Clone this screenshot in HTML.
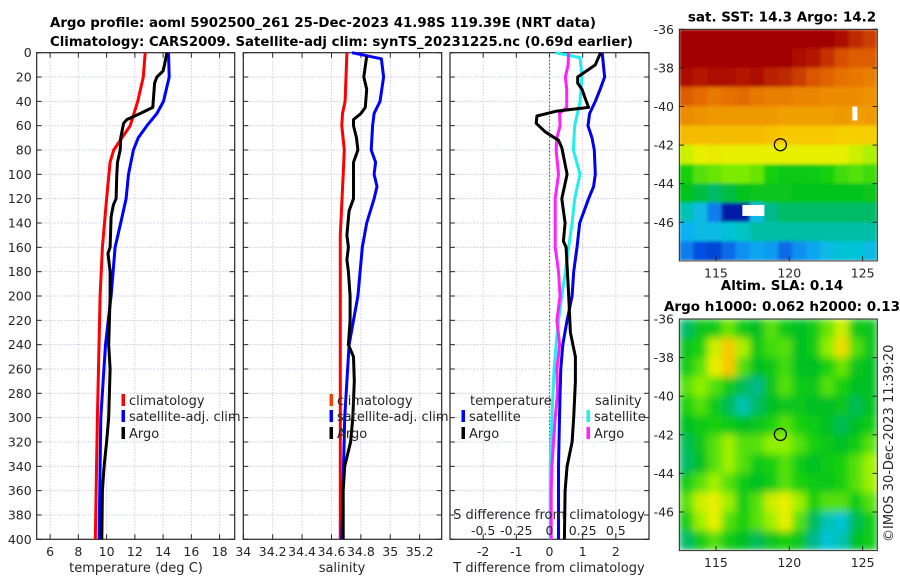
<!DOCTYPE html>
<html><head><meta charset="utf-8">
<style>
html,body{margin:0;padding:0;background:#fff;}
svg{display:block;font-family:"DejaVu Sans","Liberation Sans",sans-serif;}
.tk{font-size:12.5px;fill:#262626;}
.tt{font-size:13.5px;font-weight:bold;fill:#000;}
.lg{font-size:13px;fill:#262626;}
</style></head>
<body>
<svg id="fig" width="900" height="580" viewBox="0 0 900 580" xmlns="http://www.w3.org/2000/svg">
<defs>
<filter id="soft" x="0" y="0" width="1" height="1"><feGaussianBlur stdDeviation="4"/></filter>
<filter id="soft2" x="0" y="0" width="1" height="1"><feGaussianBlur stdDeviation="1.5"/></filter>
<clipPath id="clipTop"><rect x="679.3" y="29.3" width="198" height="230.7"/></clipPath>
<clipPath id="clipBot"><rect x="679.3" y="319" width="198" height="230.7"/></clipPath>
</defs>
<text class="tt" x="50" y="27" textLength="546" lengthAdjust="spacingAndGlyphs">Argo profile: aoml 5902500_261 25-Dec-2023 41.98S 119.39E (NRT data)</text>
<text class="tt" x="50" y="46" textLength="583" lengthAdjust="spacingAndGlyphs">Climatology: CARS2009. Satellite-adj clim: synTS_20231225.nc (0.69d earlier)</text>
<g id="layer"></g>
</svg>
<script>
// ---------- profile data ----------
const tClimDepth = [0,20,40,60,70,80,90,120,160,200,300,400];
const tClimVal   = [12.73,12.6,12.2,11.67,11.08,10.5,10.25,10.0,9.7,9.54,9.35,9.2];
const tSatDepth  = [0,20,40,50,60,70,80,100,120,140,160,200,240,300,400];
const tSatVal    = [14.38,14.43,14.03,13.56,12.85,12.24,11.9,11.55,11.38,11.0,10.6,10.32,9.92,9.59,9.47];
const tArgoDepth = [0,10,15,20,25,45,50,55,58,70,80,90,100,120,125,135,160,165,180,200,240,260,300,320,340,360,400];
const tArgoVal   = [14.27,14.1,14.0,13.56,13.4,13.27,12.38,11.43,11.2,11.0,10.96,10.77,10.72,10.67,10.48,10.32,10.25,10.1,10.25,10.25,10.15,10.25,10.15,10.0,9.82,9.7,9.66];

const sClimDepth = [0,40,50,60,80,100,150,200,300,400];
const sClimVal   = [34.705,34.693,34.675,34.67,34.687,34.68,34.66,34.66,34.66,34.66];
const sSatDepth  = [0,5,20,40,50,60,80,90,100,110,120,140,160,200,240,300,400];
const sSatVal    = [34.74,34.94,34.955,34.93,34.89,34.88,34.87,34.9,34.89,34.91,34.89,34.84,34.81,34.78,34.72,34.69,34.67];
const sArgoDepth = [3,20,30,45,50,55,60,70,80,90,110,120,130,150,160,170,180,200,220,240,250,270,300,320,340,360,400];
const sArgoVal   = [34.84,34.82,34.84,34.83,34.8,34.75,34.75,34.77,34.78,34.75,34.75,34.75,34.72,34.705,34.715,34.705,34.715,34.727,34.727,34.715,34.75,34.755,34.745,34.73,34.69,34.68,34.68];

const dTSatDepth  = [0,20,30,40,50,60,70,80,100,110,120,140,160,180,200,220,240,260,280,300,340,400];
const dTSatVal    = [1.59,1.66,1.53,1.38,1.21,1.16,1.28,1.35,1.38,1.33,1.18,0.91,0.83,0.73,0.68,0.53,0.4,0.34,0.32,0.3,0.27,0.27];
const dTArgoDepth = [0,10,20,25,30,40,45,48,52,58,65,72,78,100,120,140,155,160,200,230,250,270,300,320,340,360,400];
const dTArgoVal   = [1.54,1.38,0.85,0.85,0.98,1.11,1.18,0.22,-0.38,-0.4,-0.13,0.27,0.37,0.53,0.37,0.47,0.42,0.5,0.58,0.63,0.78,0.78,0.73,0.68,0.53,0.47,0.45];
const dSSatDepth  = [0,4,20,40,60,80,100,120,140,160,180,200,220,240,260,300,340,400];
const dSSatVal    = [0.043,0.23,0.245,0.23,0.19,0.18,0.23,0.19,0.17,0.144,0.12,0.093,0.068,0.05,0.035,0.018,0.005,0.005];
const dSArgoDepth = [0,10,20,30,45,50,60,70,80,100,120,140,160,170,180,200,220,240,260,280,300,320,340,360,400];
const dSArgoVal   = [0.144,0.14,0.12,0.13,0.13,0.076,0.08,0.056,0.05,0.068,0.043,0.043,0.043,0.056,0.068,0.08,0.056,0.076,0.056,0.06,0.043,0.03,0.018,0.013,0.013];

// ticks
const depthTicks = [0,20,40,60,80,100,120,140,160,180,200,220,240,260,280,300,320,340,360,380,400];
const tTicks = [6,8,10,12,14,16,18];
const sTicks = [34,34.2,34.4,34.6,34.8,35,35.2];
const sTickLabels = ["34","34.2","34.4","34.6","34.8","35","35.2"];
const dTTicks = [-2,-1,0,1,2];
const dSTicks = [-0.5,-0.25,0,0.25,0.5];
const dSTickLabels = ["-0.5","-0.25","0","0.25","0.5"];
const latTicks = [-36,-38,-40,-42,-44,-46];
const lonTicks = [115,120,125];
const argoLon = 119.39, argoLat = -41.98;

// map grids (colour index 0..100), rows lat -36..-48, cols lon 112.5..126
const sstGrid = [
[95,95,95,95,95,95,95,95,95,95,95,93,90,88],
[95,95,95,95,95,95,95,95,93,92,89,86,84,84],
[93,92,93,93,92,93,91,90,88,85,83,81,80,79],
[84,82,80,81,82,80,79,79,78,78,77,77,77,76],
[77,76,75,75,75,75,75,74,74,74,74,75,74,75],
[70,70,70,70,70,70,69,68,68,68,68,67,67,67],
[60,62,63,62,62,62,62,62,62,62,62,62,60,58],
[50,53,54,55,55,54,50,47,47,48,50,52,53,52],
[45,42,40,42,45,46,46,46,45,45,45,45,45,46],
[35,30,20,8,8,30,38,40,40,40,40,40,40,40],
[28,30,30,32,34,36,36,36,36,36,36,36,36,36],
[20,15,14,18,22,26,24,18,22,26,30,32,32,30]];
const slaGrid = [
[40,46,48,54,48,44,53,48,44,48,54,60,48,46],
[46,50,60,68,58,47,52,53,44,48,56,65,53,46],
[48,53,62,68,53,44,47,52,44,44,50,54,46,44],
[53,56,53,48,41,38,46,53,48,46,53,50,44,44],
[50,53,48,41,35,40,44,46,46,44,44,46,41,44],
[44,48,50,48,44,46,50,53,50,48,44,41,44,48],
[41,46,53,57,53,53,56,56,53,50,46,44,48,53],
[40,44,53,57,53,48,50,53,48,44,48,50,53,57],
[48,53,57,53,48,44,48,53,50,48,46,50,53,57],
[53,60,62,57,48,53,60,62,57,50,53,53,48,53],
[48,57,62,53,50,53,57,62,53,41,35,32,41,48],
[40,48,53,48,44,41,46,50,46,38,32,35,44,48]];

const NS = "http://www.w3.org/2000/svg";
const layer = document.getElementById('layer');
function mk(tag, attrs, parent){ const e=document.createElementNS(NS,tag); for(const k in attrs) e.setAttribute(k,attrs[k]); (parent||layer).appendChild(e); return e; }
function lin(d0,d1,r0,r1){ return v => r0+(v-d0)/(d1-d0)*(r1-r0); }

const Y0=52.7, Y1=539.3;
const yD = lin(0,400,Y0,Y1);
const panels = [
 {x0:36.7,x1:234.7,dom:[5.05,19.07],name:'temperature-panel'},
 {x0:243.3,x1:441.7,dom:[34,35.35],name:'salinity-panel'},
 {x0:450,x1:649,dom:[-3,3],name:'difference-panel'}];
panels.forEach(p=>{p.x=lin(p.dom[0],p.dom[1],p.x0,p.x1);});

function frame(p, xt, xlabels, showY){
  const g = mk('g',{});
  
  
  depthTicks.forEach(d=>{
    if(d>0&&d<400){ const l=mk('line',{x1:p.x0,x2:p.x1,y1:yD(d),y2:yD(d),stroke:'#c4cce6','stroke-width':1,'stroke-dasharray':'1.5,1.5'},g);
      }
    mk('line',{x1:p.x0,x2:p.x0+5,y1:yD(d),y2:yD(d),stroke:'#262626'},g);
    mk('line',{x1:p.x1,x2:p.x1-5,y1:yD(d),y2:yD(d),stroke:'#262626'},g);
    if(showY){ const t=mk('text',{x:p.x0-5,y:yD(d)+4.5,'text-anchor':'end',class:'tk'},g); t.textContent=d;
        }
  });
  xt.forEach((v,i)=>{
    const X=p.x(v);
    const l=mk('line',{x1:X,x2:X,y1:Y0,y2:Y1,stroke:'#d8c8dc','stroke-width':1,'stroke-dasharray':'1.5,1.5'},g);
     
    mk('line',{x1:X,x2:X,y1:Y1,y2:Y1-5,stroke:'#262626'},g);
    mk('line',{x1:X,x2:X,y1:Y0,y2:Y0+5,stroke:'#262626'},g);
    const t=mk('text',{x:X,y:556,'text-anchor':'middle',class:'tk'},g); t.textContent=xlabels[i];
     
  });
  const r=mk('rect',{x:p.x0,y:Y0,width:p.x1-p.x0,height:Y1-Y0,fill:'none',stroke:'#262626','stroke-width':1.2},g);
   
}
frame(panels[0], tTicks, tTicks.map(String), true);
frame(panels[1], sTicks, sTickLabels, false);
frame(panels[2], dTTicks, dTTicks.map(String), false);

function series(p, depths, vals, color, name, scale){
  const pts = depths.map((d,i)=>p.x(vals[i]*(scale||1)).toFixed(1)+','+yD(d).toFixed(1)).join(' ');
  const e = mk('polyline',{points:pts,fill:'none',stroke:color,'stroke-width':3,'stroke-linejoin':'round'});
  
  
}
const z = mk('line',{x1:panels[2].x(0),x2:panels[2].x(0),y1:Y0,y2:Y1,stroke:'#556b2f','stroke-width':1.2,'stroke-dasharray':'1.5,2'});
 

series(panels[0], tClimDepth, tClimVal, '#ff0000', 'temperature-climatology-line');
series(panels[0], tSatDepth, tSatVal, '#0000ff', 'temperature-satellite-line');
series(panels[0], tArgoDepth, tArgoVal, '#000000', 'temperature-argo-line');
series(panels[1], sClimDepth, sClimVal, '#ff0000', 'salinity-climatology-line');
series(panels[1], sSatDepth, sSatVal, '#0000ff', 'salinity-satellite-line');
series(panels[1], sArgoDepth, sArgoVal, '#000000', 'salinity-argo-line');
series(panels[2], dSSatDepth, dSSatVal, '#22eeee', 'salinity-diff-satellite-line', 4);
series(panels[2], dSArgoDepth, dSArgoVal, '#ff22ff', 'salinity-diff-argo-line', 4);
series(panels[2], dTSatDepth, dTSatVal, '#0000ee', 'temperature-diff-satellite-line');
series(panels[2], dTArgoDepth, dTArgoVal, '#000000', 'temperature-diff-argo-line');

mk('text',{x:549,y:519,'text-anchor':'middle',class:'lg'}).textContent='S difference from climatology';
dSTicks.forEach((v,i)=>{ const t=mk('text',{x:panels[2].x(v*4),y:535,'text-anchor':'middle',class:'tk'}); t.textContent=dSTickLabels[i];
    });

[['temperature (deg C)',136,'temperature-axis-title'],['salinity',342,'salinity-axis-title'],['T difference from climatology',549,'t-diff-axis-title']].forEach(a=>{
  const t=mk('text',{x:a[1],y:572,'text-anchor':'middle',class:'lg'}); t.textContent=a[0];
    });

function legend(x,y,color,label,name){
  const g=mk('g',{});
   
  mk('rect',{x:x-1.5,y:y-11,width:3.5,height:12,fill:color},g);
  mk('text',{x:x+6,y:y,class:'lg'},g).textContent=label;
}
legend(123,405,'#ff0000','climatology','legend-climatology');
legend(123,421,'#0000ff','satellite-adj. clim','legend-satellite');
legend(123,438,'#000000','Argo','legend-argo');
legend(331,405,'#ff4000','climatology','legend-s-climatology');
legend(331,421,'#0000ff','satellite-adj. clim','legend-s-satellite');
legend(331,438,'#000000','Argo','legend-s-argo');
mk('text',{x:470,y:405,class:'lg'}).textContent='temperature';
legend(463,421,'#0000ff','satellite','legend-t-diff-satellite');
legend(463,438,'#000000','Argo','legend-t-diff-argo');
mk('text',{x:595,y:405,class:'lg'}).textContent='salinity';
legend(588,421,'#22eeee','satellite','legend-s-diff-satellite');
legend(588,438,'#ff22ff','Argo','legend-s-diff-argo');

// ---------- maps ----------
const stops=[[0,'#000080'],[10,'#0020b0'],[15,'#0050e0'],[22,'#1090f0'],[28,'#10b0f0'],[33,'#00c8d0'],[38,'#00b888'],[44,'#00c020'],[50,'#18d010'],[56,'#90f000'],[62,'#e8f000'],[68,'#f8c800'],[74,'#f0a000'],[80,'#e87800'],[86,'#d85000'],[91,'#b82000'],[95,'#a00000'],[100,'#a00000']];
function hex(c){return [1,3,5].map(i=>parseInt(c.substr(i,2),16));}
function cmap(v){ for(let i=1;i<stops.length;i++){ if(v<=stops[i][0]){ const a=hex(stops[i-1][1]),b=hex(stops[i][1]); const f=(v-stops[i-1][0])/(stops[i][0]-stops[i-1][0]); return 'rgb('+a.map((x,k)=>Math.round(x+(b[k]-x)*f)).join(',')+')'; } } return stops[stops.length-1][1]; }

const LON0=112.5, LON1=126.0;
function map(top, grid, title1, title2, clip, name, blur){
  const xL=lin(LON0,LON1,679.3,877.3), yL=lin(-36,-48,top,top+231.6);
  const g=mk('g',{'clip-path':'url(#'+clip+')'});
   
  const gi=mk('g',{filter:'url(#'+blur+')'},g);
  const nc=grid[0].length, dlon=(LON1-LON0)/nc;
  mk('rect',{x:679.3,y:top,width:198,height:231.6,fill:cmap(grid[0][0])},gi);
  grid.forEach((row,r)=>row.forEach((v,c)=>{
    const cell=mk('rect',{x:xL(LON0+c*dlon)-0.3,y:yL(-36-r)-0.3,width:xL(LON0+dlon)-xL(LON0)+0.6,height:yL(-37)-yL(-36)+0.6,fill:cmap(v)},gi);
    
    
  }));
  if(name==='sst-map'){ mk('rect',{x:xL(116.8),y:yL(-45.1),width:22,height:11,fill:'#fff'},g); mk('rect',{x:xL(124.3),y:yL(-40),width:5,height:14,fill:'#fff'},g); }
  const c=mk('circle',{cx:xL(argoLon),cy:yL(argoLat),r:6,fill:'none',stroke:'#000','stroke-width':1.3});
   
  mk('rect',{x:679.3,y:top,width:198,height:231.6,fill:'none',stroke:'#262626','stroke-width':1});
  latTicks.forEach(v=>{ const Y=yL(v); mk('line',{x1:679.3,x2:684,y1:Y,y2:Y,stroke:'#262626'}); mk('line',{x1:877.3,x2:872.5,y1:Y,y2:Y,stroke:'#262626'});
    const t=mk('text',{x:674,y:Y+4.5,'text-anchor':'end',class:'tk'}); t.textContent=v;   });
  lonTicks.forEach(v=>{ const X=xL(v); mk('line',{x1:X,x2:X,y1:top+231.6,y2:top+227,stroke:'#262626'});
    const t=mk('text',{x:X,y:top+248,'text-anchor':'middle',class:'tk'}); t.textContent=v;   });
  const t1=mk('text',{x:782,y:title2?top-29:top-8,'text-anchor':'middle',class:'tt'}); t1.textContent=title1;
   
  if(title2){ const t2=mk('text',{x:782,y:top-8,'text-anchor':'middle',class:'tt'}); t2.textContent=title2;
      }
}
map(29.3, sstGrid, 'sat. SST: 14.3 Argo: 14.2', null, 'clipTop', 'sst-map', 'soft2');
map(319, slaGrid, 'Altim. SLA: 0.14', 'Argo h1000: 0.062 h2000: 0.13', 'clipBot', 'sla-map', 'soft');

const cp=mk('text',{x:0,y:0,class:'lg',transform:'translate(893,542) rotate(-90)'});
cp.textContent='©IMOS 30-Dec-2023 11:39:20';
 
</script>
</body></html>
